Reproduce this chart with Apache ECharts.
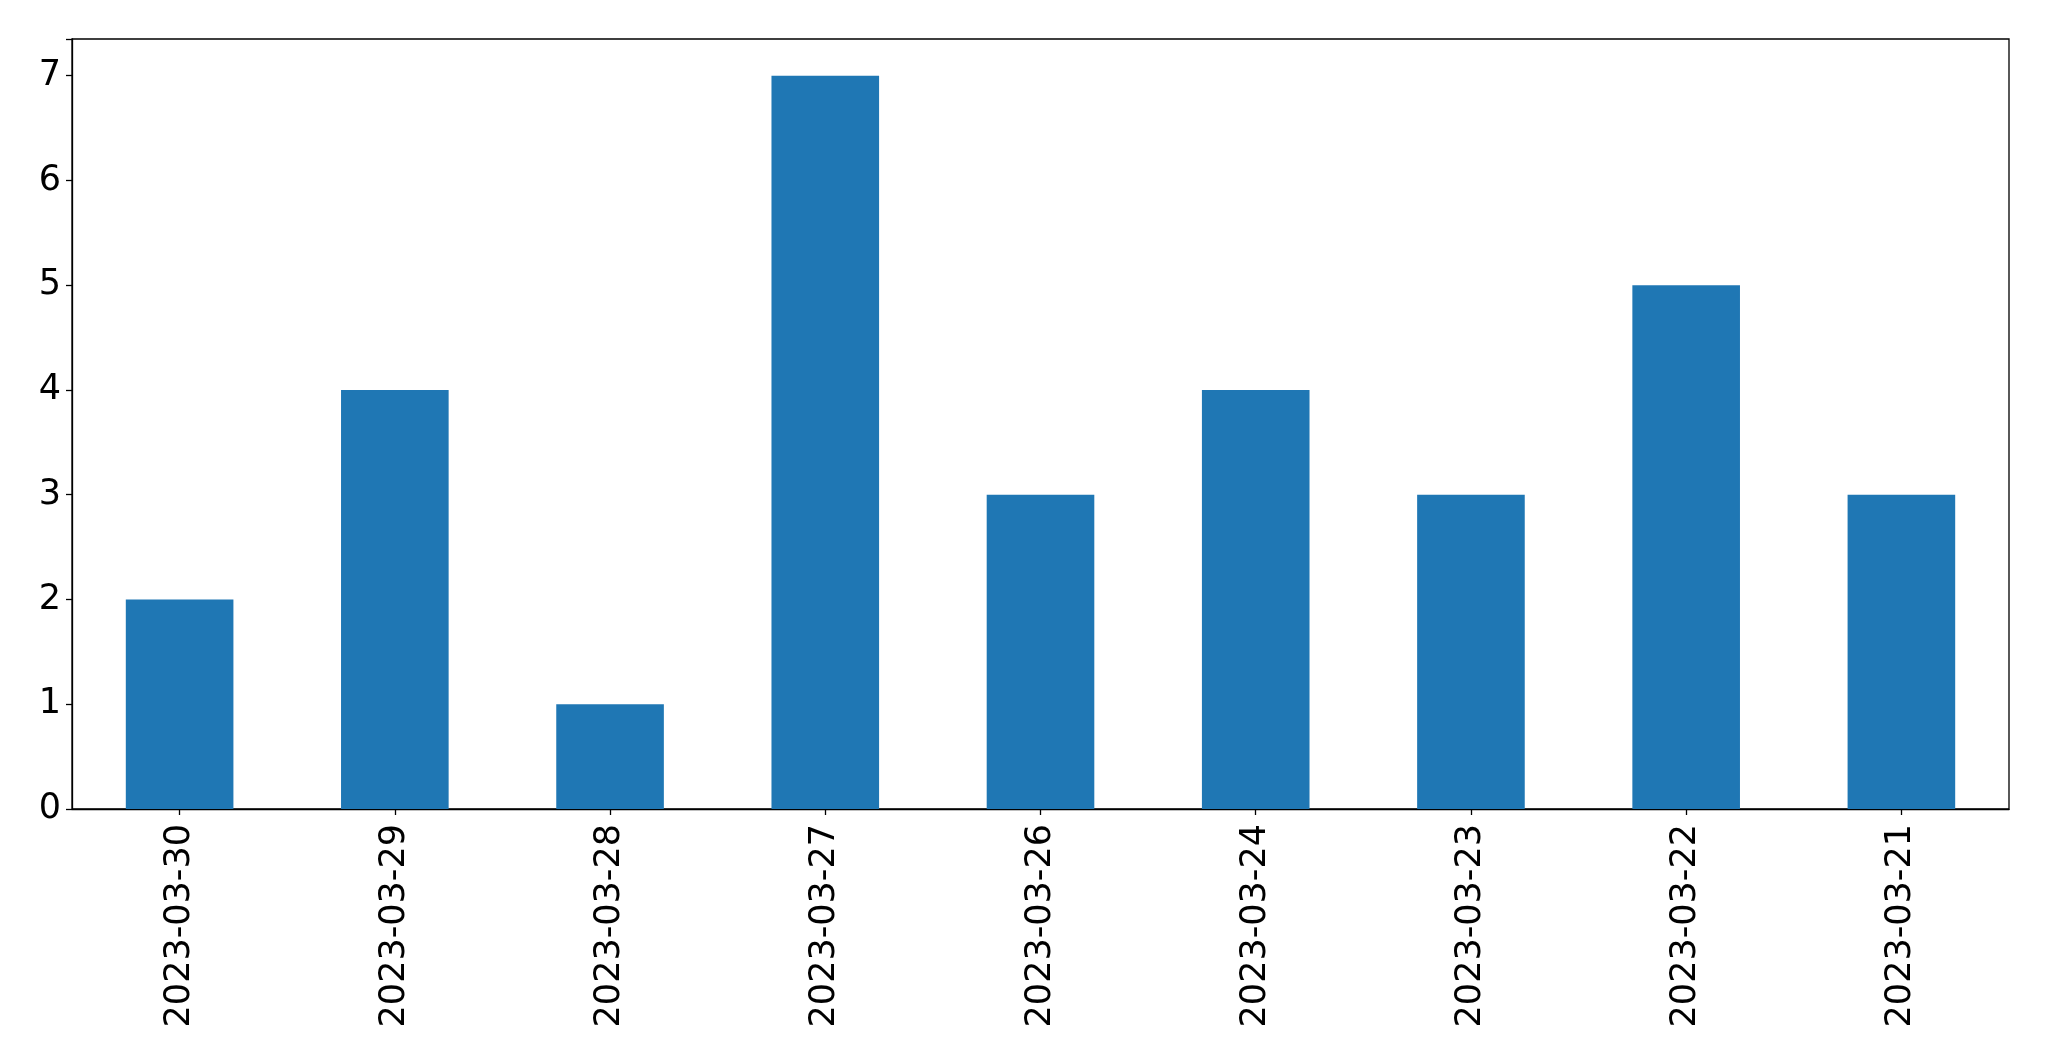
<!DOCTYPE html>
<html><head><meta charset="utf-8">
<script src="https://cdn.jsdelivr.net/npm/echarts@6/dist/echarts.min.js"></script>
<style>html,body{margin:0;padding:0;background:#fff}#c{width:2049px;height:1061px}</style>
</head><body><div id="c"></div>
<script>
const categories = ['2023-03-30','2023-03-29','2023-03-28','2023-03-27','2023-03-26','2023-03-24','2023-03-23','2023-03-22','2023-03-21'];
const values = [2, 4, 1, 7, 3, 4, 3, 5, 3];
const yTicks = [0,1,2,3,4,5,6,7];

const chart = echarts.init(document.getElementById('c'), null, {renderer:'canvas'});
chart.setOption({
  animation: false,
  grid: {left: 72, top: 39, right: 40, bottom: 252, show: true, borderColor: '#000', borderWidth: 1.3, containLabel: false},
  xAxis: {
    type: 'category', data: categories,
    axisLine: {show: true, lineStyle: {color: '#000', width: 1.3}},
    axisTick: {show: true, alignWithLabel: true, length: 6, lineStyle: {color: '#000', width: 1.3}},
    axisLabel: {rotate: 90, margin: 15, fontSize: 35, color: '#000', fontFamily: 'DejaVu Sans', interval: 0}
  },
  yAxis: {
    type: 'value', min: 0, max: 7.35, interval: 1,
    splitLine: {show: false},
    axisLine: {show: true, lineStyle: {color: '#000', width: 1.3}},
    axisTick: {show: true, length: 6, lineStyle: {color: '#000', width: 1.3}},
    axisLabel: {margin: 11, fontSize: 35, color: '#000', fontFamily: 'DejaVu Sans',
      formatter: v => yTicks.includes(v) ? String(v) : ''}
  },
  series: [{type: 'bar', data: values, barWidth: '50%', itemStyle: {color: '#1f77b4'}}]
});
</script></body></html>
